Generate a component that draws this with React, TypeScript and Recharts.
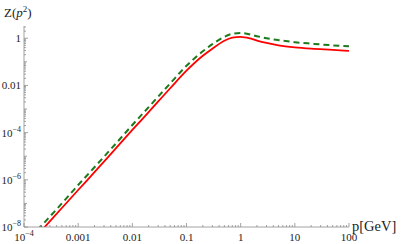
import { LineChart, Line, XAxis, YAxis } from "recharts";

// momentum grid (GeV)
const pValues = [
  1e-4, 2e-4, 5e-4, 1e-3, 2e-3, 5e-3, 0.01, 0.02, 0.05, 0.1, 0.2, 0.3, 0.5,
  0.7, 1, 1.5, 2, 3, 5, 10, 20, 50, 100,
];

// Z(p^2), solid red curve
const zSolid = [
  1.1e-9, 6.2e-9, 6.4e-8, 3.7e-7, 2.1e-6, 2.2e-5, 1.3e-4, 7.4e-4, 7.6e-3,
  0.042, 0.18, 0.36, 0.78, 1.05, 1.15, 0.98, 0.8, 0.63, 0.5, 0.41, 0.36, 0.32,
  0.29,
];

// Z(p^2), dashed green curve
const zDashed = [
  1.8e-9, 1e-8, 1.0e-7, 6e-7, 3.4e-6, 3.5e-5, 2.1e-4, 1.2e-3, 0.0122, 0.068,
  0.28, 0.56, 1.15, 1.55, 1.65, 1.45, 1.22, 1.0, 0.83, 0.68, 0.59, 0.5, 0.46,
];

const xMajorTicks = [1e-4, 1e-3, 0.01, 0.1, 1, 10, 100];
const xTickLabels = ["10^-4", "0.001", "0.01", "0.1", "1", "10", "100"];

const yMajorTicks = [1e-8, 1e-6, 1e-4, 0.01, 1];
const yTickLabels = ["10^-8", "10^-6", "10^-4", "0.01", "1"];

const data = pValues.map((p, i) => ({ p, solid: zSolid[i], dashed: zDashed[i] }));

const FONT = '"Liberation Serif", "Times New Roman", serif';
const AXIS = "#8c8c8c";
const X_MIN = 1e-4;
const X_MAX = 100;
const Y_MIN = 1e-8;
const Y_MAX = 3.3;

function minorTicks(lo: number, hi: number) {
  const out: number[] = [];
  for (let d = Math.floor(Math.log10(lo)); d <= Math.ceil(Math.log10(hi)); d++) {
    for (let m = 1; m <= 9; m++) {
      const v = m * Math.pow(10, d);
      if (v >= lo * 0.999 && v <= hi * 1.001) out.push(v);
    }
  }
  return out;
}

const xTicks = minorTicks(X_MIN, X_MAX);
const yTicks = minorTicks(Y_MIN, Y_MAX);

function findIdx(list: number[], v: number) {
  return list.findIndex((t) => Math.abs(t - v) / t < 1e-6);
}

function isDecade(v: number) {
  const l = Math.log10(v);
  return Math.abs(l - Math.round(l)) < 1e-6;
}

function Label({ text, x, y, anchor }: { text: string; x: number; y: number; anchor: "middle" | "end" }) {
  if (text.startsWith("10^")) {
    const exp = text.slice(3).replace("-", "\u2212");
    return (
      <text x={x} y={y} textAnchor={anchor} fontFamily={FONT} fontSize={11} fill="#222">
        <tspan>10</tspan>
        <tspan dy={-5} fontSize={8}>{exp}</tspan>
      </text>
    );
  }
  return (
    <text x={x} y={y} textAnchor={anchor} fontFamily={FONT} fontSize={11} fill="#222">
      {text}
    </text>
  );
}

function XTick(props: any) {
  const { x, y, payload } = props;
  const v = payload.value;
  const idx = findIdx(xMajorTicks, v);
  const len = idx >= 0 ? 4 : 2;
  return (
    <g>
      <line x1={x} x2={x} y1={y} y2={y - len} stroke={AXIS} strokeWidth={0.8} />
      {idx >= 0 && <Label text={xTickLabels[idx]} x={x} y={y + 14} anchor="middle" />}
    </g>
  );
}

function YTick(props: any) {
  const { x, y, payload } = props;
  const v = payload.value;
  const idx = findIdx(yMajorTicks, v);
  const len = idx >= 0 ? 4 : isDecade(v) ? 3 : 2;
  return (
    <g>
      <line x1={x} x2={x + len} y1={y} y2={y} stroke={AXIS} strokeWidth={0.8} />
      {idx >= 0 && <Label text={yTickLabels[idx]} x={x - 3} y={y + 4} anchor="end" />}
    </g>
  );
}

export default function App() {
  return (
    <div style={{ position: "absolute", left: 0, top: 0, width: 407, height: 244, background: "#fff" }}>
      <LineChart
        width={407}
        height={244}
        data={data}
        margin={{ top: 26, right: 58, left: 0, bottom: 0 }}
      >
        <XAxis
          dataKey="p"
          type="number"
          scale="log"
          domain={[X_MIN, X_MAX]}
          allowDataOverflow
          ticks={xTicks}
          interval={0}
          tick={<XTick />}
          tickLine={false}
          tickSize={0}
          tickMargin={0}
          height={17}
          axisLine={{ stroke: AXIS, strokeWidth: 0.8 }}
        />
        <YAxis
          type="number"
          scale="log"
          domain={[Y_MIN, Y_MAX]}
          allowDataOverflow
          ticks={yTicks}
          interval={0}
          tick={<YTick />}
          tickLine={false}
          tickSize={0}
          tickMargin={0}
          width={24}
          axisLine={{ stroke: AXIS, strokeWidth: 0.8 }}
        />
        <Line
          dataKey="dashed"
          type="monotone"
          stroke="#1d7a1d"
          strokeWidth={2}
          strokeDasharray="6 4"
          dot={false}
          isAnimationActive={false}
        />
        <Line
          dataKey="solid"
          type="monotone"
          stroke="#ff0000"
          strokeWidth={1.8}
          dot={false}
          isAnimationActive={false}
        />
      </LineChart>
      <svg
        width={407}
        height={244}
        style={{ position: "absolute", left: 0, top: 0, pointerEvents: "none" }}
      >
        <text x={4} y={17} fontFamily={FONT} fontSize={13} fill="#222">
          Z(<tspan fontStyle="italic">p</tspan>
          <tspan dy={-5} fontSize={9}>2</tspan>
          <tspan dy={5}>)</tspan>
        </text>
        <text x={352} y={231} fontFamily={FONT} fontSize={14.5} fill="#222">
          p[GeV]
        </text>
      </svg>
    </div>
  );
}
